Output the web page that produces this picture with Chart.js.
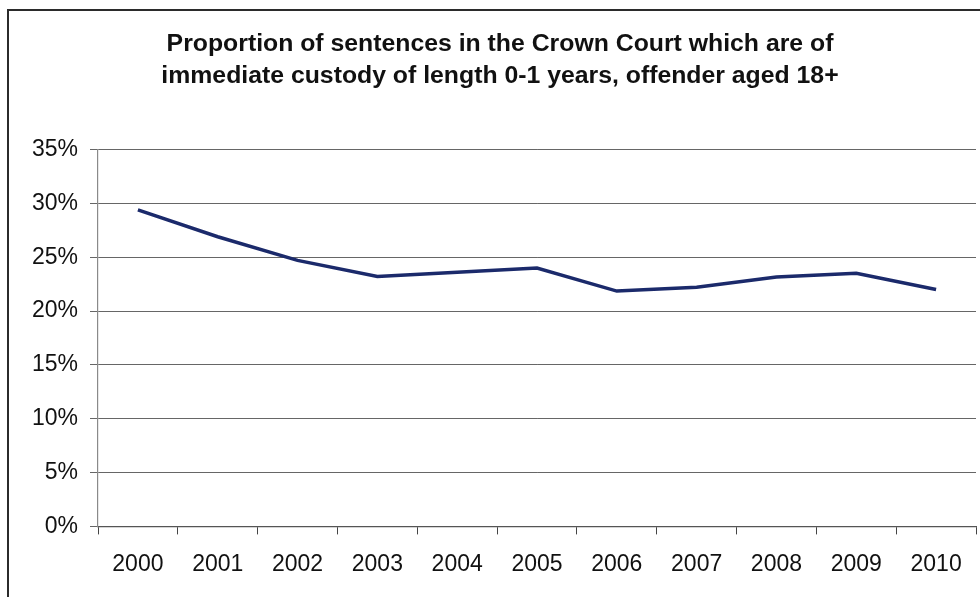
<!DOCTYPE html>
<html>
<head>
<meta charset="utf-8">
<script src="https://cdn.jsdelivr.net/npm/chart.js@4/dist/chart.umd.min.js"></script>
<style>
    html, body { margin: 0; padding: 0; background: #fff; overflow: hidden; }
    .frame {
        position: absolute; left: 7px; top: 9px; width: 1100px; height: 700px;
        border-left: 2px solid #2b2b2b; border-top: 2px solid #2b2b2b;
    }
    .chart-box { position: absolute; left: 0; top: 0; width: 980px; height: 597px; }
</style>
</head>
<body>
<div class="frame"></div>
<div class="chart-box"><canvas id="custodyChart"></canvas></div>
<script>
// ── Data ──
const years = ['2000', '2001', '2002', '2003', '2004', '2005', '2006', '2007', '2008', '2009', '2010'];
const shortCustodyPct = [29.4, 26.9, 24.7, 23.2, 23.6, 24.0, 21.85, 22.2, 23.15, 23.5, 22.0];
const yTicks = [0, 5, 10, 15, 20, 25, 30, 35];
const titleLines = [
    'Proportion of sentences in the Crown Court which are of',
    'immediate custody of length 0-1 years, offender aged 18+'
];

const ctx = document.getElementById('custodyChart').getContext('2d');
new Chart(ctx, {
    type: 'line',
    data: {
        labels: years,
        datasets: [{
            label: 'Immediate custody 0-1 years',
            data: shortCustodyPct,
            borderColor: '#1b2a6b',
            borderWidth: 3.5,
            pointRadius: 0,
            tension: 0,
            fill: false
        }]
    },
    options: {
        responsive: true,
        maintainAspectRatio: false,
        animation: false,
        // left padding pushes the title centre right; y axis width below makes up for it
        layout: { padding: { left: 24, right: 4, top: 0, bottom: 3 } },
        plugins: {
            legend: { display: false },
            tooltip: { enabled: false },
            title: {
                display: true,
                text: titleLines,
                color: '#111',
                font: { family: '"Liberation Sans", Arial, sans-serif', size: 24.8, weight: 'bold', lineHeight: 1.26 },
                padding: { top: 29, bottom: 58 }
            }
        },
        scales: {
            x: {
                offset: true,
                grid: {
                    offset: true,
                    drawOnChartArea: false,
                    drawTicks: true,
                    tickLength: 8,
                    color: '#444'
                },
                border: { color: '#555', width: 1.2 },
                ticks: {
                    color: '#111',
                    padding: 16,
                    maxRotation: 0,
                    font: { family: '"Liberation Sans", Arial, sans-serif', size: 23 }
                }
            },
            y: {
                min: 0,
                max: 35,
                afterFit: scale => { scale.width = 74; },
                afterBuildTicks: scale => { scale.ticks = yTicks.map(v => ({ value: v })); },
                grid: { color: '#666', lineWidth: 1, tickLength: 8 },
                border: { color: '#8a8a8a', width: 1.2 },
                ticks: {
                    color: '#111',
                    padding: 12,
                    font: { family: '"Liberation Sans", Arial, sans-serif', size: 23 },
                    callback: v => v + '%'
                }
            }
        }
    }
});
</script>
</body>
</html>
